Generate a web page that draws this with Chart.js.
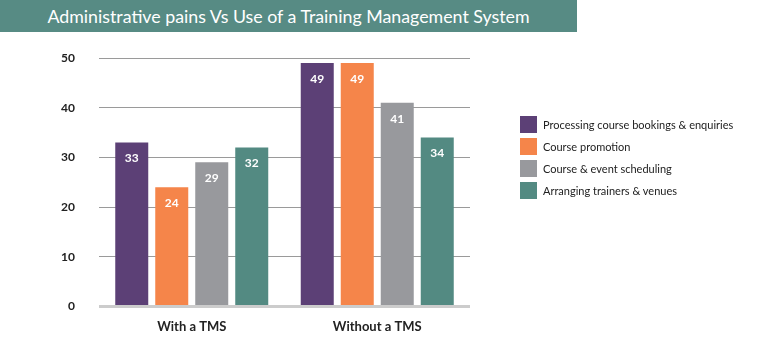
<!DOCTYPE html>
<html>
<head>
<meta charset="utf-8">
<script src="https://cdn.jsdelivr.net/npm/chart.js@4.4.0/dist/chart.umd.min.js"></script>
<style>
  body { margin: 0; background: #fff; font-family: Lato, "Open Sans", sans-serif; }
  #wrap { position: relative; width: 766px; height: 349px; }
  #banner {
    position: absolute; left: 0; top: 0; width: 577px; height: 32px;
    background: #578b84; color: #fff; font-size: 17.8px; line-height: 32px;
    text-align: center; font-weight: 400;
  }
  #legend { position: absolute; left: 520px; top: 116px; }
  .item { display: flex; align-items: center; height: 17px; margin-bottom: 5px;
    font-size: 11px; color: #222; }
  .swatch { width: 17px; height: 17px; margin-right: 6px; }
</style>
</head>
<body>
<div id="wrap">
  <canvas id="chart" width="766" height="349"></canvas>
  <div id="banner">Administrative pains Vs Use of a Training Management System</div>
  <div id="legend"></div>
</div>
<script>
const categories = ['With a TMS', 'Without a TMS'];
const seriesNames = [
  'Processing course bookings & enquiries',
  'Course promotion',
  'Course & event scheduling',
  'Arranging trainers & venues'
];
const bookings = [33, 49];
const promotion = [24, 49];
const scheduling = [29, 41];
const trainers = [32, 34];
const colors = ['#5c4076', '#f5854a', '#98999d', '#538a82'];

const seriesValues = [bookings, promotion, scheduling, trainers];

// write the numbers inside the top of each bar
const valueLabels = {
  id: 'valueLabels',
  afterDatasetsDraw(chart) {
    const c = chart.ctx;
    c.save();
    c.fillStyle = '#fff';
    c.font = 'bold 12px Lato, sans-serif';
    c.textAlign = 'center';
    c.textBaseline = 'middle';
    chart.data.datasets.forEach((ds, i) => {
      chart.getDatasetMeta(i).data.forEach((bar, j) => {
        c.fillText(ds.data[j], bar.x, bar.y + 16);
      });
    });
    c.restore();
  }
};

const chart = new Chart(document.getElementById('chart'), {
  type: 'bar',
  data: {
    labels: categories,
    datasets: seriesNames.map((name, i) => ({
      label: name,
      data: seriesValues[i],
      backgroundColor: colors[i],
      categoryPercentage: 0.8625,
      barPercentage: 0.825
    }))
  },
  options: {
    responsive: false,
    animation: false,
    layout: { padding: { top: 58, right: 296, bottom: 1, left: 0 } },
    plugins: { legend: { display: false }, tooltip: { enabled: false } },
    scales: {
      x: {
        grid: { display: false, drawTicks: false },
        border: { display: false },
        ticks: { color: '#222', padding: 13, font: { family: 'Lato', size: 13, weight: 'bold' } }
      },
      y: {
        min: 0,
        max: 50,
        afterFit: s => { s.width = 99; },
        grid: {
          drawTicks: false,
          color: ctx => ctx.tick.value === 0 ? '#cccccc' : '#9a9a9a',
          lineWidth: ctx => ctx.tick.value === 0 ? 3 : 1
        },
        border: { display: false },
        ticks: { stepSize: 10, color: '#222', padding: 24, font: { family: 'Lato', size: 12, weight: 'bold' } }
      }
    }
  },
  plugins: [valueLabels]
});

// html legend from the datasets
const legend = document.getElementById('legend');
chart.data.datasets.forEach(ds => {
  const row = document.createElement('div');
  row.className = 'item';
  row.innerHTML = '<span class="swatch" style="background:' + ds.backgroundColor + '"></span>' + ds.label;
  legend.appendChild(row);
});
</script>
</body>
</html>
